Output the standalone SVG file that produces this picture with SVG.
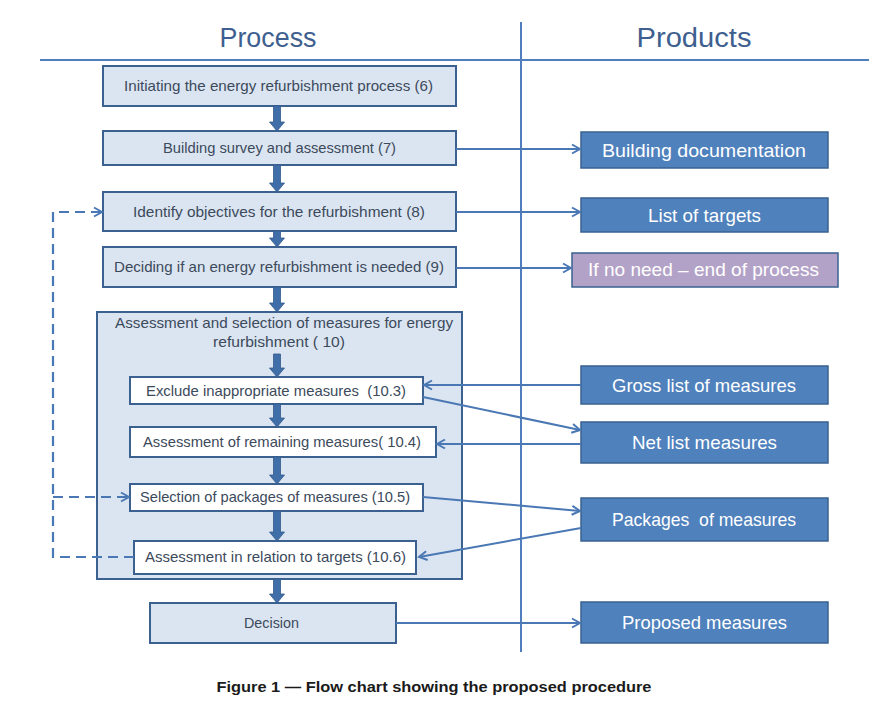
<svg xmlns="http://www.w3.org/2000/svg" width="869" height="709" viewBox="0 0 869 709">
<style>
.bg{fill:#ffffff}
.rule{stroke:#4f7ebd;stroke-width:2;fill:none}
.hdr{font-family:"Liberation Sans",Arial,sans-serif;font-size:27px;fill:#3e5f8f;text-anchor:middle}
.pbox{fill:#dbe5f1;stroke:#3a6190;stroke-width:2}
.ibox{fill:#ffffff;stroke:#3a6190;stroke-width:2}
.prod{fill:#4f81bd;stroke:#3a6190;stroke-width:1.5}
.purple{fill:#b3a2c7;stroke:#3a6190;stroke-width:1.5}
.pt{font-family:"Liberation Sans",Arial,sans-serif;font-size:14.5px;fill:#3c4a5c;text-anchor:middle}
.wt{font-family:"Liberation Sans",Arial,sans-serif;font-size:19px;fill:#ffffff;text-anchor:middle}
.blk{fill:#3f6ea8;stroke:#335b8c;stroke-width:0.8}
.con{stroke:#4a78b4;stroke-width:2;fill:none}
.dash{stroke:#4a78b4;stroke-width:2.2;fill:none;stroke-dasharray:10 6}
.cap{font-family:"Liberation Sans",Arial,sans-serif;font-size:14px;font-weight:bold;fill:#1a1a1a;text-anchor:middle}
</style>
<defs>
<marker id="ah" markerUnits="userSpaceOnUse" markerWidth="12" markerHeight="12" refX="10" refY="6" orient="auto">
<path d="M2,1.5 L10,6 L2,10.5" fill="none" stroke="#4a78b4" stroke-width="2"/>
</marker>
</defs>
<rect class="bg" x="0" y="0" width="869" height="709"/>

<g id="headers">
<line class="rule" x1="40" y1="60" x2="869" y2="60"/>
<line class="rule" x1="521" y1="22" x2="521" y2="652"/>
<text class="hdr" x="268" y="47" textLength="97" lengthAdjust="spacingAndGlyphs">Process</text>
<text class="hdr" x="694" y="47" textLength="115" lengthAdjust="spacingAndGlyphs">Products</text>
</g>

<g id="n1"><rect class="pbox" x="103" y="66" width="353" height="40"/>
<text class="pt" x="278.5" y="91" textLength="309" lengthAdjust="spacingAndGlyphs">Initiating the energy refurbishment process (6)</text></g>
<g id="n2"><rect class="pbox" x="103" y="131" width="353" height="34"/>
<text class="pt" x="279.5" y="153" textLength="233" lengthAdjust="spacingAndGlyphs">Building survey and assessment (7)</text></g>
<g id="n3"><rect class="pbox" x="103" y="192" width="353" height="39"/>
<text class="pt" x="279" y="217" textLength="292" lengthAdjust="spacingAndGlyphs">Identify objectives for the refurbishment (8)</text></g>
<g id="n4"><rect class="pbox" x="103" y="247" width="353" height="40"/>
<text class="pt" x="279" y="272" textLength="330" lengthAdjust="spacingAndGlyphs">Deciding if an energy refurbishment is needed (9)</text></g>
<g id="n10"><rect class="pbox" x="97" y="312" width="365" height="267"/>
<text class="pt" x="284" y="328" textLength="338" lengthAdjust="spacingAndGlyphs">Assessment and selection of measures for energy</text>
<text class="pt" x="279" y="347" textLength="132" lengthAdjust="spacingAndGlyphs">refurbishment ( 10)</text></g>
<g id="n103"><rect class="ibox" x="130" y="377" width="293" height="27"/>
<text class="pt" x="276" y="396" textLength="260" lengthAdjust="spacingAndGlyphs" xml:space="preserve">Exclude inappropriate measures  (10.3)</text></g>
<g id="n104"><rect class="ibox" x="130" y="427" width="306" height="30"/>
<text class="pt" x="282" y="447" textLength="278" lengthAdjust="spacingAndGlyphs">Assessment of remaining measures( 10.4)</text></g>
<g id="n105"><rect class="ibox" x="130" y="484" width="293" height="27"/>
<text class="pt" x="275" y="502" textLength="270" lengthAdjust="spacingAndGlyphs">Selection of packages of measures (10.5)</text></g>
<g id="n106"><rect class="ibox" x="134" y="541" width="282" height="33"/>
<text class="pt" x="275.5" y="562" textLength="261" lengthAdjust="spacingAndGlyphs">Assessment in relation to targets (10.6)</text></g>
<g id="ndec"><rect class="pbox" x="150" y="603" width="246" height="40"/>
<text class="pt" x="271.5" y="628" textLength="55" lengthAdjust="spacingAndGlyphs">Decision</text></g>

<g id="p1"><rect class="prod" x="581" y="132" width="247" height="36"/>
<text class="wt" x="704" y="156.5" textLength="204" lengthAdjust="spacingAndGlyphs">Building documentation</text></g>
<g id="p2"><rect class="prod" x="581" y="198" width="247" height="34"/>
<text class="wt" x="704.5" y="221.5" textLength="113" lengthAdjust="spacingAndGlyphs">List of targets</text></g>
<g id="p3"><rect class="purple" x="572" y="253" width="266" height="34"/>
<text class="wt" x="703.5" y="276" textLength="231" lengthAdjust="spacingAndGlyphs" fill="#f4f0f8">If no need – end of process</text></g>
<g id="p4"><rect class="prod" x="581" y="366" width="247" height="38"/>
<text class="wt" x="704" y="391.5" textLength="184" lengthAdjust="spacingAndGlyphs">Gross list of measures</text></g>
<g id="p5"><rect class="prod" x="581" y="422" width="247" height="41"/>
<text class="wt" x="704.5" y="449" textLength="145" lengthAdjust="spacingAndGlyphs">Net list measures</text></g>
<g id="p6"><rect class="prod" x="581" y="498" width="247" height="43"/>
<text class="wt" x="704" y="526" textLength="184" lengthAdjust="spacingAndGlyphs" xml:space="preserve">Packages  of measures</text></g>
<g id="p7"><rect class="prod" x="581" y="602" width="247" height="41"/>
<text class="wt" x="704.5" y="629" textLength="165" lengthAdjust="spacingAndGlyphs">Proposed measures</text></g>

<g id="connectors">
<path class="blk" d="M273.5,106 H280.5 V122 H284.5 L277,131 L269.5,122 H273.5 Z"/>
<path class="blk" d="M273.5,165 H280.5 V183 H284.5 L277,192 L269.5,183 H273.5 Z"/>
<path class="blk" d="M273.5,231 H280.5 V238 H284.5 L277,247 L269.5,238 H273.5 Z"/>
<path class="blk" d="M273.5,287 H280.5 V303 H284.5 L277,312 L269.5,303 H273.5 Z"/>
<path class="blk" d="M273.5,354 H280.5 V368 H284.5 L277,377 L269.5,368 H273.5 Z"/>
<path class="blk" d="M273.5,404 H280.5 V418 H284.5 L277,427 L269.5,418 H273.5 Z"/>
<path class="blk" d="M273.5,457 H280.5 V475 H284.5 L277,484 L269.5,475 H273.5 Z"/>
<path class="blk" d="M273.5,511 H280.5 V532 H284.5 L277,541 L269.5,532 H273.5 Z"/>
<path class="blk" d="M273.5,579 H280.5 V594 H284.5 L277,603 L269.5,594 H273.5 Z"/>

<path class="con" d="M456,149 H580" marker-end="url(#ah)"/>
<path class="con" d="M456,212 H580" marker-end="url(#ah)"/>
<path class="con" d="M456,268 H571" marker-end="url(#ah)"/>
<path class="con" d="M581,385 H424" marker-end="url(#ah)"/>
<path class="con" d="M423,397 L580,430" marker-end="url(#ah)"/>
<path class="con" d="M581,444 H437" marker-end="url(#ah)"/>
<path class="con" d="M423,497 L580,511" marker-end="url(#ah)"/>
<path class="con" d="M581,528 L419,557" marker-end="url(#ah)"/>
<path class="con" d="M396,623 H580" marker-end="url(#ah)"/>

<path class="dash" d="M134,557 H53 V212 H102" marker-end="url(#ah)"/>
<path class="dash" d="M53,497 H129" marker-end="url(#ah)"/>
</g>

<text class="cap" x="434" y="692" textLength="435" lengthAdjust="spacingAndGlyphs">Figure 1 — Flow chart showing the proposed procedure</text>
</svg>
